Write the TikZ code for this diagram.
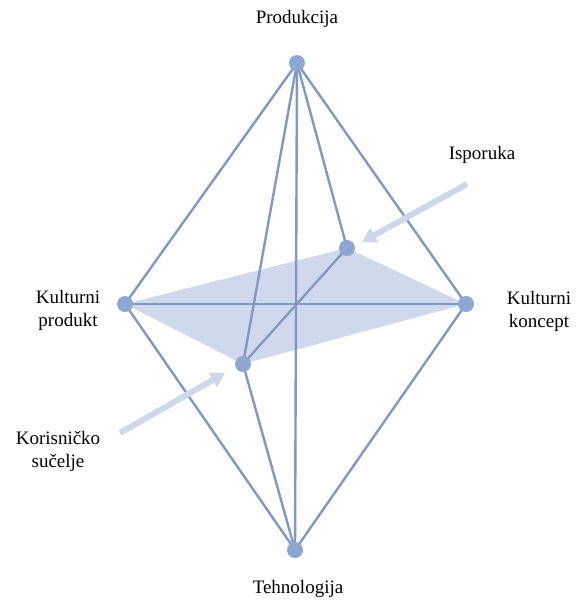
\documentclass[tikz,border=0pt]{standalone}
\usepackage{fontspec}
\setmainfont{Liberation Serif}
\usetikzlibrary{arrows.meta}
\definecolor{edgec}{RGB}{128,152,200}
\definecolor{dotc}{RGB}{142,166,210}
\definecolor{planec}{RGB}{208,217,236}
\definecolor{arrc}{RGB}{204,215,234}
\tikzset{
  vert/.style={circle,fill=dotc,inner sep=0pt,minimum width=16pt,minimum height=14pt},
  edge/.style={draw=edgec,line width=2.4pt},
  lbl/.style={font=\fontsize{19}{23}\selectfont,align=center,text=black},
  pointer/.style={draw=arrc,line width=6pt,-{Triangle[width=16pt,length=14pt]}}
}
\begin{document}
\begin{tikzpicture}[x=1pt,y=-1pt]
\useasboundingbox (0,0) rectangle (578,606);
\coordinate (T) at (297,63);
\coordinate (B) at (295,550);
\coordinate (L) at (125,304);
\coordinate (R) at (466,304);
\coordinate (K) at (347,248);
\coordinate (F) at (243,364);
\fill[planec] (L) -- (K) -- (R) -- (F) -- cycle;
\draw[edge] (L) -- (R);
\draw[edge] (F) -- (K);
\draw[edge] (T) -- (L);
\draw[edge] (T) -- (R);
\draw[edge] (T) -- (K);
\draw[edge] (T) -- (F);
\draw[edge] (T) -- (B);
\draw[edge] (B) -- (L);
\draw[edge] (B) -- (R);
\draw[edge] (B) -- (F);
\node[vert] (nT) at (T) {};
\node[vert] (nB) at (B) {};
\node[vert] (nL) at (L) {};
\node[vert] (nR) at (R) {};
\node[vert] (nK) at (K) {};
\node[vert] (nF) at (F) {};
\coordinate (a1s) at (467,184);
\coordinate (a1e) at (362,242);
\coordinate (a2s) at (120,433);
\coordinate (a2e) at (225,373);
\draw[pointer] (a1s) -- (a1e);
\draw[pointer] (a2s) -- (a2e);
\node[lbl] (tP) at (297,19) {Produkcija};
\node[lbl] (tI) at (482,155) {Isporuka};
\node[lbl] (tKP) at (68,310) {Kulturni\\produkt};
\node[lbl] (tKK) at (539,311) {Kulturni\\koncept};
\node[lbl] (tKS) at (58,451) {Korisničko\\sučelje};
\node[lbl] (tTe) at (298,589) {Tehnologija};
\end{tikzpicture}
\end{document}
